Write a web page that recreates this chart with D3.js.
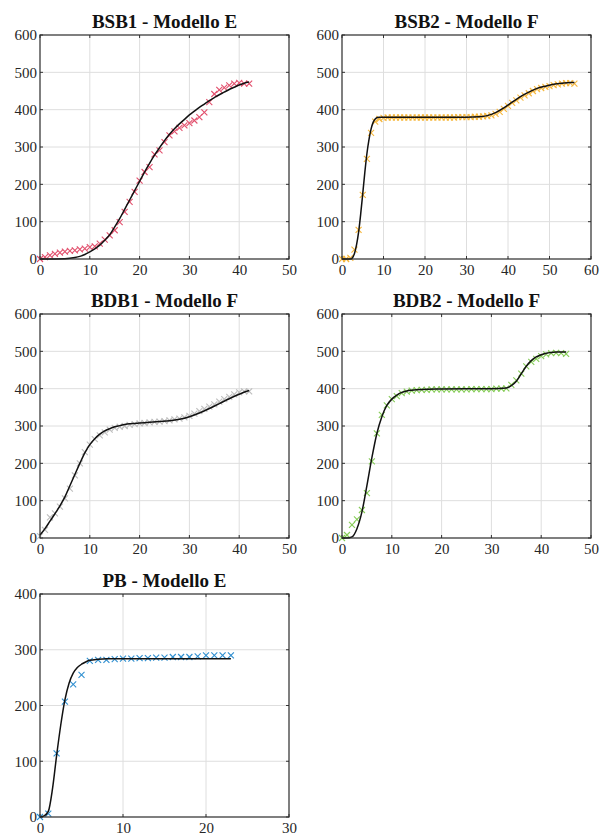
<!DOCTYPE html>
<html>
<head>
<meta charset="utf-8">
<script src="https://cdn.jsdelivr.net/npm/d3@7"></script>
<style>
  html, body { margin: 0; padding: 0; background: #ffffff; }
  svg { display: block; }
  svg text { font-family: "Liberation Serif", "Times New Roman", serif; }
</style>
</head>
<body>
<svg id="chart" width="605" height="839"></svg>
<script>
// ---------------- DATA ----------------
const titles = ["BSB1 - Modello E", "BSB2 - Modello F", "BDB1 - Modello F", "BDB2 - Modello F", "PB - Modello E"];

const xTicks1 = [0, 10, 20, 30, 40, 50];
const xTicks2 = [0, 10, 20, 30, 40, 50, 60];
const xTicks5 = [0, 10, 20, 30];
const yTicks600 = [0, 100, 200, 300, 400, 500, 600];
const yTicks400 = [0, 100, 200, 300, 400];

// BSB1 observed (x = 0..42)
const bsb1Obs = [0, 5, 10, 14, 17, 20, 22, 23, 26, 28, 32, 34, 41, 52, 63, 77, 99, 126, 153, 180, 210,
  233, 246, 280, 291, 313, 331, 342, 351, 358, 364, 371, 380, 393, 420, 442, 453, 459, 465, 470, 472, 470, 470];
// BSB1 fitted (x, y)
const bsb1FitX = [0, 5, 7, 8, 9, 10, 11, 12, 13, 14, 15, 16, 17, 18, 19, 20, 21, 22, 23, 24, 25, 26, 27, 28, 29, 30, 31, 32, 33, 34, 35, 36, 37, 38, 39, 40, 41, 42];
const bsb1FitY = [0, 1, 4, 7, 12, 19, 27, 37, 50, 65, 86, 108, 133, 158, 183, 208, 233, 256, 278, 298, 317, 334, 349, 362, 374, 386, 396, 406, 415, 424, 432, 440, 447, 454, 460, 466, 471, 474];

// BSB2 observed (x = 0..56)
const bsb2Obs = [0, 0, 3, 25, 78, 172, 268, 338, 368, 375, 378, 379, 379, 379, 379, 379, 379, 379, 379, 379, 379,
  379, 379, 379, 379, 379, 379, 379, 380, 380, 380, 380, 381, 381, 382, 383, 385, 389, 394, 402, 410,
  418, 425, 432, 438, 444, 450, 455, 458, 461, 463, 466, 468, 470, 471, 471, 470];
const bsb2FitX = [0, 2, 2.5, 3, 3.5, 4, 4.5, 5, 5.5, 6, 6.5, 7, 7.5, 8, 8.5, 9, 10, 20, 30, 33, 35, 37, 39, 41, 43, 45, 47, 49, 51, 53, 55, 56];
const bsb2FitY = [0, 0, 3, 15, 38, 72, 120, 175, 232, 282, 320, 348, 366, 375, 379, 380, 380, 380, 380, 381, 384, 392, 405, 420, 435, 447, 457, 463, 468, 471, 473, 473];

// BDB1 observed (x = 0..42)
const bdb1Obs = [5, 22, 55, 66, 84, 106, 132, 168, 200, 230, 250, 265, 275, 283, 290, 295, 298, 300, 303, 305, 307,
  308, 310, 311, 312, 313, 315, 318, 320, 323, 327, 333, 340, 346, 352, 358, 365, 372, 378, 385, 390, 393, 393];
const bdb1FitX = [0, 1, 2, 3, 4, 5, 6, 7, 8, 9, 10, 11, 12, 13, 14, 15, 16, 17, 18, 19, 20, 22, 24, 26, 28, 30, 32, 34, 36, 38, 40, 42];
const bdb1FitY = [8, 25, 45, 65, 86, 110, 140, 170, 200, 228, 250, 266, 278, 287, 293, 298, 301, 304, 306, 307, 308, 310, 312, 314, 318, 325, 335, 347, 360, 373, 385, 395];

// BDB2 observed (x = 0..45)
const bdb2Obs = [0, 8, 35, 50, 75, 120, 205, 280, 330, 355, 372, 380, 388, 392, 395, 396, 397, 397, 398, 398, 398,
  398, 398, 398, 398, 398, 399, 399, 399, 399, 399, 400, 400, 401, 410, 422, 440, 460, 472, 480, 487,
  492, 495, 496, 495, 493];
const bdb2FitX = [0, 1, 2, 3, 4, 5, 6, 7, 8, 9, 10, 11, 12, 13, 14, 16, 20, 30, 33, 34, 35, 36, 37, 38, 39, 40, 41, 42, 43, 45];
const bdb2FitY = [0, 0, 3, 25, 70, 140, 215, 280, 325, 355, 372, 383, 390, 394, 396, 398, 399, 400, 402, 408, 420, 440, 460, 475, 485, 491, 495, 497, 498, 498];

// PB observed (x = 0..23)
const pbObs = [0, 6, 114, 207, 238, 255, 280, 282, 282, 283, 284, 284, 285, 285, 286, 286, 287, 287, 287, 288, 290, 290, 290, 290];
const pbFitX = [0, 0.5, 1, 1.5, 2, 2.5, 3, 3.5, 4, 4.5, 5, 5.5, 6, 7, 8, 23];
const pbFitY = [0, 2, 10, 50, 110, 165, 210, 240, 258, 268, 274, 278, 281, 283, 284, 284];

const markerColors = ["#e2506d", "#f6b73c", "#bdbdbd", "#86cc57", "#2f8fd0"];

// ---------------- LAYOUT ----------------
const panels = [
  { title: titles[0], left: 40, top: 35, w: 249, h: 224, xMax: 50, xTicks: xTicks1, yMax: 600, yTicks: yTicks600, obs: bsb1Obs, fx: bsb1FitX, fy: bsb1FitY, color: markerColors[0] },
  { title: titles[1], left: 342, top: 35, w: 249, h: 224, xMax: 60, xTicks: xTicks2, yMax: 600, yTicks: yTicks600, obs: bsb2Obs, fx: bsb2FitX, fy: bsb2FitY, color: markerColors[1] },
  { title: titles[2], left: 40, top: 314, w: 249, h: 224, xMax: 50, xTicks: xTicks1, yMax: 600, yTicks: yTicks600, obs: bdb1Obs, fx: bdb1FitX, fy: bdb1FitY, color: markerColors[2] },
  { title: titles[3], left: 342, top: 314, w: 249, h: 224, xMax: 50, xTicks: xTicks1, yMax: 600, yTicks: yTicks600, obs: bdb2Obs, fx: bdb2FitX, fy: bdb2FitY, color: markerColors[3] },
  { title: titles[4], left: 40, top: 594, w: 249, h: 223, xMax: 30, xTicks: xTicks5, yMax: 400, yTicks: yTicks400, obs: pbObs, fx: pbFitX, fy: pbFitY, color: markerColors[4] }
];

const svg = d3.select("#chart");
const fontFam = "Liberation Serif, Times New Roman, serif";
const textCol = "#262626";

panels.forEach(p => {
  const g = svg.append("g").attr("transform", `translate(${p.left},${p.top})`);
  const x = d3.scaleLinear().domain([0, p.xMax]).range([0, p.w]);
  const y = d3.scaleLinear().domain([0, p.yMax]).range([p.h, 0]);

  // grid
  g.append("g").selectAll("line.vg").data(p.xTicks.slice(1, -1)).join("line")
    .attr("x1", d => x(d)).attr("x2", d => x(d)).attr("y1", 0).attr("y2", p.h)
    .attr("stroke", "#dedede").attr("stroke-width", 1);
  g.append("g").selectAll("line.hg").data(p.yTicks.slice(1, -1)).join("line")
    .attr("y1", d => y(d)).attr("y2", d => y(d)).attr("x1", 0).attr("x2", p.w)
    .attr("stroke", "#dedede").attr("stroke-width", 1);

  // axes with labels
  const xAxis = d3.axisBottom(x).tickValues(p.xTicks).tickSize(0).tickPadding(5);
  const ax = g.append("g").attr("transform", `translate(0,${p.h})`).call(xAxis)
    .attr("font-family", fontFam).attr("font-size", 15);
  ax.select(".domain").remove();
  ax.selectAll("text").style("font-family", fontFam).style("font-size", "15px").attr("fill", textCol);

  const yAxis = d3.axisLeft(y).tickValues(p.yTicks).tickSize(0).tickPadding(3);
  const ay = g.append("g").call(yAxis)
    .attr("font-family", fontFam).attr("font-size", 15);
  ay.select(".domain").remove();
  ay.selectAll("text").style("font-family", fontFam).style("font-size", "15px").attr("fill", textCol);

  // inner tick marks (bottom/top and left/right)
  const tk = 3;
  const tg = g.append("g").attr("stroke", "#333").attr("stroke-width", 1);
  p.xTicks.forEach(t => {
    tg.append("line").attr("x1", x(t)).attr("x2", x(t)).attr("y1", p.h).attr("y2", p.h - tk);
    tg.append("line").attr("x1", x(t)).attr("x2", x(t)).attr("y1", 0).attr("y2", tk);
  });
  p.yTicks.forEach(t => {
    tg.append("line").attr("y1", y(t)).attr("y2", y(t)).attr("x1", 0).attr("x2", tk);
    tg.append("line").attr("y1", y(t)).attr("y2", y(t)).attr("x1", p.w).attr("x2", p.w - tk);
  });

  // observed points as x markers
  const m = 3;
  const pts = p.obs.map((v, i) => [i, v]);
  const mk = g.append("g").attr("stroke", p.color).attr("stroke-width", 1.1);
  pts.forEach(([xi, v]) => {
    const cx = x(xi), cy = y(v);
    mk.append("line").attr("x1", cx - m).attr("y1", cy - m).attr("x2", cx + m).attr("y2", cy + m);
    mk.append("line").attr("x1", cx - m).attr("y1", cy + m).attr("x2", cx + m).attr("y2", cy - m);
  });

  // fitted curve
  const line = d3.line().x(d => x(d[0])).y(d => y(d[1])).curve(d3.curveMonotoneX);
  g.append("path").datum(p.fx.map((xv, i) => [xv, p.fy[i]]))
    .attr("d", line).attr("fill", "none").attr("stroke", "#111").attr("stroke-width", 1.5);

  // box
  g.append("rect").attr("x", 0).attr("y", 0).attr("width", p.w).attr("height", p.h)
    .attr("fill", "none").attr("stroke", "#2b2b2b").attr("stroke-width", 1.2);

  // title
  g.append("text").attr("x", p.w / 2).attr("y", -7).attr("text-anchor", "middle")
    .style("font-family", fontFam).style("font-weight", "bold").style("font-size", "19px")
    .attr("fill", "#111").text(p.title);
});
</script>
</body>
</html>
